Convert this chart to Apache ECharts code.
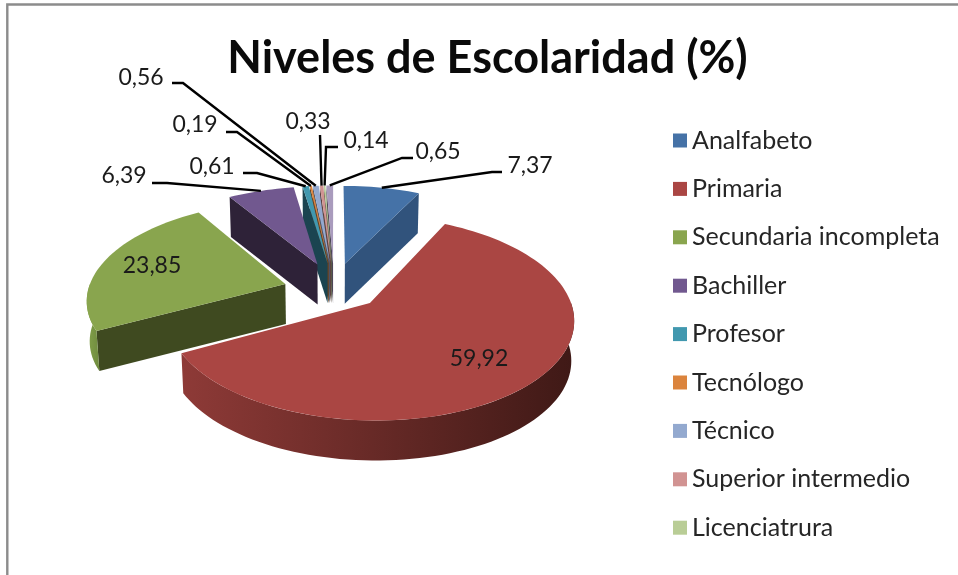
<!DOCTYPE html>
<html><head><meta charset="utf-8">
<style>html,body{margin:0;padding:0;background:#fff}#c{width:958px;height:575px}</style>
<script src="https://cdn.jsdelivr.net/npm/echarts@6/dist/echarts.min.js"></script>
</head><body><div id="c"></div>
<script>
// ---- data ----
const categories = ['Analfabeto','Primaria','Secundaria incompleta','Bachiller','Profesor','Tecnólogo','Técnico','Superior intermedio','Licenciatrura','(fuera de la leyenda)'];
const legendNames = categories.slice(0, 9);
const values = [7.37,59.92,23.85,6.39,0.61,0.19,0.56,0.33,0.14,0.65];
const colors = ['#4572a7','#aa4643','#89a54e','#71588f','#4198af','#db843d','#93a9cf','#d19392','#b9cd96','#a99bbd'];
const wallColors = ['#31537c','#6b2b29','#3f4a20','#2e2238','#1b4450','#6b401d','#4a5568','#5e4342','#5a6349','#4e4658'];
// ---- layout (not data) ----
const title = 'Niveles de Escolaridad (%)';
const P = {cx:334, cy:286, a:196, b:95, k:0.145, depth:40, explode:0.25};
const explodeDir = {2:275};          // explosion direction override, degrees clockwise from top
// label text centre, leader start, elbow
const labelLayout = [
 {t:[530,166], s:[502,172], e:[492,172]},
 {t:[479,359]},
 {t:[152,266]},
 {t:[124,176], s:[152,183], e:[167,183]},
 {t:[212,167], s:[243,173], e:[257,173]},
 {t:[195,125], s:[226,132], e:[237,132]},
 {t:[141,78],  s:[172,83],  e:[183,83]},
 {t:[308,122], s:[320,135], e:[320,135]},
 {t:[366,141], s:[338,147], e:[326,147]},
 {t:[438,152], s:[413,158], e:[402,158]}
];
const rad = d => d*Math.PI/180;
const total = values.reduce((s,v)=>s+v,0);
let acc = 0;
const slices = values.map((v,i)=>{const s=acc/total*360; acc+=v; const e=acc/total*360;
  const dir = explodeDir[i]!==undefined?explodeDir[i]:(s+e)/2;
  return {s,e,mid:(s+e)/2,ox:P.explode*Math.sin(rad(dir)),oy:-P.explode*Math.cos(rad(dir))};});
function proj(X,Y,z){const f=1/(1-P.k*Y); let x=P.a*X*f, y=P.b*Y*f;
  if(z){x*=0.988; y+=P.depth;} return [P.cx+x,P.cy+y];}
function rim(sl,ang,z){return proj(sl.ox+Math.sin(rad(ang)),sl.oy-Math.cos(rad(ang)),z);}
function apex(sl,z){return proj(sl.ox,sl.oy,z);}
function arcPts(sl,a0,a1,z){const n=Math.max(2,Math.ceil((a1-a0)/2)),r=[];for(let i=0;i<=n;i++)r.push(rim(sl,a0+(a1-a0)*i/n,z));return r;}
function faces(i){
  const sl=slices[i], ch=[];
  const wall=(ang)=>({type:'polygon',shape:{points:[apex(sl,0),rim(sl,ang,0),rim(sl,ang,1),apex(sl,1)]},style:{fill:wallColors[i]}});
  if(Math.cos(rad(sl.s-90))<0) ch.push(wall(sl.s));
  if(Math.cos(rad(sl.e+90))<0) ch.push(wall(sl.e));
  const a0=Math.max(sl.s,90),a1=Math.min(sl.e,270);
  if(a1>a0){
    const top=arcPts(sl,a0,a1,0),bot=arcPts(sl,a0,a1,1).reverse();
    const stops=i===1?['#8e3a37','#3f1916']:['#84a24b','#6f8b3e'];
    const grad=new echarts.graphic.LinearGradient(0,0,1,0,[{offset:0,color:stops[0]},{offset:1,color:stops[1]}]);
    ch.push({type:'polygon',shape:{points:top.concat(bot)},style:{fill:grad}});
  }
  ch.push({type:'polygon',shape:{points:[apex(sl,0)].concat(arcPts(sl,sl.s,sl.e,0))},style:{fill:colors[i]}});
  return ch;
}
function labelEls(i){
  const sl=slices[i],L=labelLayout[i],ch=[];
  if(L.s){ch.push({type:'polyline',shape:{points:[L.s,L.e,rim(sl,sl.mid,0)]},style:{fill:null,stroke:'#000',lineWidth:2.4},z2:50});}
  ch.push({type:'text',x:L.t[0],y:L.t[1],style:{text:values[i].toFixed(2).replace('.',','),font:'23px Lato',fill:'#1a1a1a',align:'center',verticalAlign:'middle'},z2:60});
  return ch;
}
// paint order: back of the pie to the front
const order = values.map((_,i)=>i).sort((p,q)=>(slices[p].oy)-(slices[q].oy));
const rank = {}; order.forEach((i,r)=>rank[i]=r);
const chart = echarts.init(document.getElementById('c'),null,{renderer:'canvas'});
chart.setOption({
  animation:false,
  backgroundColor:'#fff',
  title:{text:title,left:482.5,top:31,textAlign:'center',textStyle:{fontFamily:'Lato',fontWeight:'bold',fontSize:45,color:'#0a0a0a'}},
  legend:{orient:'vertical',left:673,top:128,padding:0,data:legendNames,icon:'rect',itemWidth:14,itemHeight:14,itemGap:23.4,selectedMode:false,
    textStyle:{fontFamily:'Lato',fontSize:25,color:'#262626'}},
  series:categories.map((name,i)=>({
    type:'custom',name,coordinateSystem:'none',z:2+rank[i],silent:true,
    itemStyle:{color:colors[i]},
    data:[[values[i]]],
    renderItem:()=>({type:'group',children:faces(i).concat(labelEls(i))})
  })),
  graphic:[{type:'polyline',shape:{points:[[7.3,575],[7.3,4.5],[958,4.5]]},style:{fill:null,stroke:'#8c8c8c',lineWidth:2.4},silent:true}]
});
</script></body></html>
